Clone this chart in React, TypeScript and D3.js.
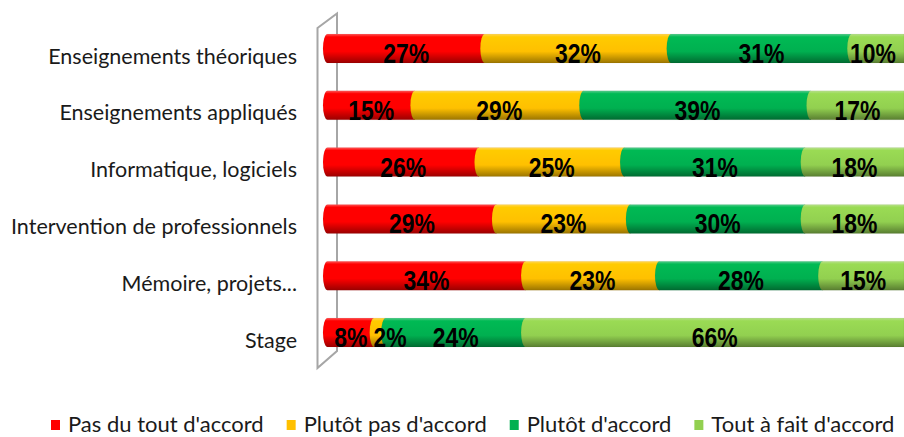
import React from "react";
import * as d3 from "d3";

const categories = [
  "Enseignements théoriques",
  "Enseignements appliqués",
  "Informatique, logiciels",
  "Intervention de professionnels",
  "Mémoire, projets...",
  "Stage",
];
const seriesNames = [
  "Pas du tout d'accord",
  "Plutôt pas d'accord",
  "Plutôt d'accord",
  "Tout à fait d'accord",
];
const pasDuTout = [27, 15, 26, 29, 34, 8];
const plutotPas = [32, 29, 25, 23, 23, 2];
const plutot = [31, 39, 31, 30, 28, 24];
const toutAFait = [10, 17, 18, 18, 15, 66];
const seriesValues = [pasDuTout, plutotPas, plutot, toutAFait];
const colors = ["#ff0000", "#ffc000", "#00b050", "#92d050"];

const W = 904;
const H = 437;
const LABEL_FONT = "Lato, 'Open Sans', sans-serif";
const VALUE_FONT = "'Liberation Sans', Arial, sans-serif";

let ctx: CanvasRenderingContext2D | null = null;
function measure(text: string, font: string) {
  if (!ctx) ctx = document.createElement("canvas").getContext("2d");
  if (!ctx) return text.length * 10;
  ctx.font = font;
  return ctx.measureText(text).width;
}

export default function App() {
  const rows = categories.map((c, i) => {
    const o: any = { cat: c };
    seriesNames.forEach((s, k) => (o[s] = seriesValues[k][i]));
    return o;
  });
  const stack = d3.stack<any>().keys(seriesNames)(rows);

  const x = d3.scaleLinear().domain([0, 100]).range([327.5, 910]);
  const y = d3.scalePoint<string>().domain(categories).range([48.5, 332.5]);
  const h = 14.5;
  const rx = 4.5;

  const segPath = (x0: number, x1: number, cy: number) =>
    `M${x0},${cy - h}L${x1},${cy - h}L${x1},${cy + h}L${x0},${cy + h}A${rx},${h} 0 0 1 ${x0},${cy - h}Z`;

  const valueFontSize = 27;
  const valueFont = `bold ${valueFontSize}px ${VALUE_FONT}`;
  const squeeze = 0.85;

  const labels: any[] = [];
  categories.forEach((c, i) => {
    let prevRight = -Infinity;
    stack.forEach((layer, k) => {
      const d = layer[i];
      const x0 = x(d[0]);
      const x1 = Math.min(x(d[1]), W);
      const txt = `${seriesValues[k][i]}%`;
      const w = measure(txt, valueFont) * squeeze;
      let cx = (x0 + x1) / 2;
      if (cx - w / 2 < prevRight + 6) cx = prevRight + 6 + w / 2;
      cx = Math.min(cx, W - 8 - w / 2);
      prevRight = cx + w / 2;
      labels.push({ key: `${i}-${k}`, cx, cy: y(c)!, txt, w });
    });
  });

  const legendFontSize = 22;
  const legendFont = `${legendFontSize}px ${LABEL_FONT}`;
  const legendItems: any[] = [];
  let lx = 51;
  seriesNames.forEach((s, k) => {
    legendItems.push({ s, k, x: lx });
    lx += 17 + measure(s, legendFont) + 23;
  });

  return (
    <svg
      width={W}
      height={H}
      style={{ position: "absolute", left: 0, top: 0, background: "#fff" }}
    >
      <defs>
        {colors.map((c, k) => {
          const base = d3.color(c)!;
          return (
            <linearGradient key={k} id={`g${k}`} x1="0" y1="0" x2="0" y2="1">
              <stop offset="0%" stopColor={d3.interpolateRgb(c, "#ffffff")(0.35)} />
              <stop offset="10%" stopColor={base.brighter(0.15).toString()} />
              <stop offset="60%" stopColor={c} />
              <stop offset="100%" stopColor={base.darker(1.4).toString()} />
            </linearGradient>
          );
        })}
      </defs>

      <path
        d="M317.5,28L337,13.5L337,351L317.5,368Z"
        fill="none"
        stroke="#a6a6a6"
        strokeWidth={2}
      />

      {categories.map((c, i) => (
        <g key={c}>
          {stack.map((layer, k) => {
            const d = layer[i];
            return (
              <path
                key={k}
                d={segPath(x(d[0]), Math.min(x(d[1]), W), y(c)!)}
                fill={`url(#g${k})`}
                stroke="rgba(0,0,0,0.08)"
                strokeWidth={0.5}
              />
            );
          })}
        </g>
      ))}

      {labels.map((l) => (
        <text
          key={l.key}
          x={l.cx}
          y={l.cy + 14.5}
          textAnchor="middle"
          fontFamily={VALUE_FONT}
          fontWeight="bold"
          fontSize={valueFontSize}
          textLength={l.w}
          lengthAdjust="spacingAndGlyphs"
          fill="#000"
        >
          {l.txt}
        </text>
      ))}

      {categories.map((c) => (
        <text
          key={c}
          x={297}
          y={y(c)! + 15}
          textAnchor="end"
          fontFamily={LABEL_FONT}
          fontSize={21.5}
          fill="#1a1a1a"
        >
          {c}
        </text>
      ))}

      {legendItems.map((it) => (
        <g key={it.s}>
          <rect x={it.x} y={420} width={9} height={10} fill={colors[it.k]} />
          <text
            x={it.x + 17}
            y={432}
            fontFamily={LABEL_FONT}
            fontSize={legendFontSize}
            fill="#1a1a1a"
          >
            {it.s}
          </text>
        </g>
      ))}
    </svg>
  );
}
